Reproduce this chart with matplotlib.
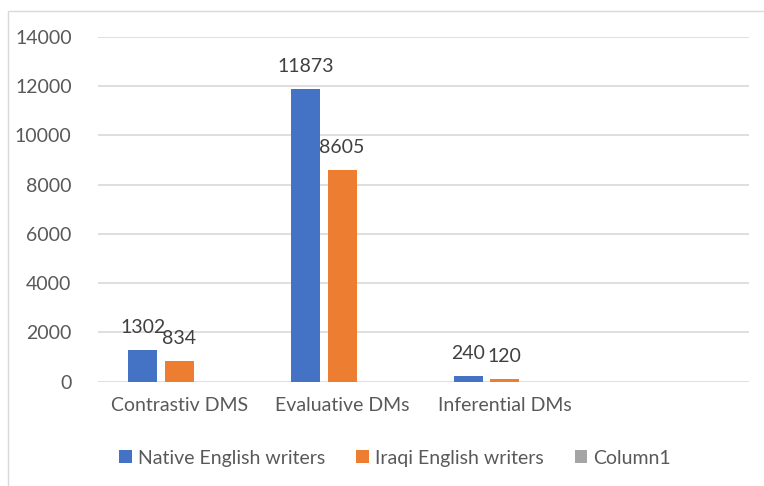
import numpy as np
import matplotlib.pyplot as plt
from matplotlib.patches import Rectangle

plt.rcParams['font.family'] = ['Lato', 'DejaVu Sans']

categories = ['Contrastiv DMS', 'Evaluative DMs', 'Inferential DMs', '']
native = [1302, 11873, 240, np.nan]
iraqi = [834, 8605, 120, np.nan]
column1 = [np.nan, np.nan, np.nan, np.nan]
series_names = ['Native English writers', 'Iraqi English writers', 'Column1']
colors = ['#4472c4', '#ed7d31', '#a5a5a5']
txt = '#595959'

fig = plt.figure(figsize=(7.64, 4.86), dpi=100)
ax = fig.add_axes([98 / 764, 1 - 381.7 / 486, 651 / 764, 345 / 486])

x = np.arange(len(categories))
width = 0.178
offsets = [-0.225, 0.0, 0.225]
handles = []
for vals, off, col, name in zip([native, iraqi, column1], offsets, colors, series_names):
    v = np.nan_to_num(np.array(vals, dtype=float))
    bars = ax.bar(x + off, v, width, color=col, label=name, zorder=3)
    handles.append(bars)
    for xi, val in zip(x + off, vals):
        if not np.isnan(val):
            ax.annotate(f'{val:g}', (xi, val), xytext=(0, 10), textcoords='offset points',
                        ha='center', va='bottom', fontsize=14, color='#404040')

ax.set_xlim(-0.5, len(categories) - 0.5)
ax.set_ylim(0, 14000)
ax.set_yticks(np.arange(0, 14001, 2000))
ax.set_xticks(x)
ax.set_xticklabels(categories)
ax.yaxis.grid(True, color='#d9d9d9', lw=1.2, zorder=0)
ax.tick_params(axis='both', length=0, labelsize=14, labelcolor=txt)
ax.tick_params(axis='y', pad=19)
ax.tick_params(axis='x', pad=11)
for s in ax.spines.values():
    s.set_visible(False)

# chart area border
fig.add_artist(Rectangle((8 / 764, -0.1), 1.2, 1 - 11 / 486 + 0.1, transform=fig.transFigure,
                         fill=False, edgecolor='#d9d9d9', lw=1))

fig.legend(handles=handles, loc='center', bbox_to_anchor=(395 / 764, 1 - 458 / 486),
           ncol=3, frameon=False, fontsize=14, labelcolor=txt,
           handlelength=0.65, handleheight=0.65, handletextpad=0.3, columnspacing=1.6)

plt.savefig('out.png', dpi=100)
